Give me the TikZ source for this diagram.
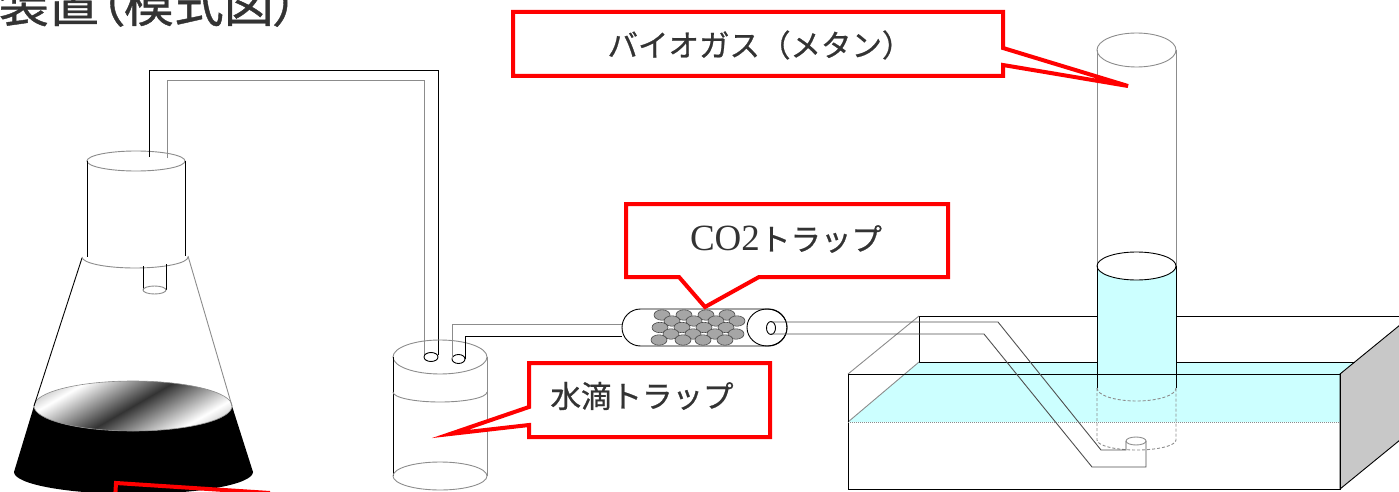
\documentclass[tikz,border=0pt]{standalone}
\usepackage{fontspec}
\newfontfamily\jpfont[FakeBold=0.8]{Noto Sans CJK JP}
\newfontfamily\jptitle[RawFeature=+palt, FakeBold=0.8]{Noto Sans CJK JP}
\newfontfamily\latinserif{Liberation Serif}
\definecolor{ink}{HTML}{333333}
\definecolor{water}{HTML}{CCFFFF}
\definecolor{callred}{HTML}{FF0000}
\definecolor{sidegray}{HTML}{C8C8C8}
\definecolor{edgegray}{HTML}{8C8C8C}
\definecolor{tubegray}{HTML}{505050}
\pgfdeclarehorizontalshading{sheen}{100bp}{color(0bp)=(black!50); color(31bp)=(black!50); color(39bp)=(white); color(50bp)=(black!80); color(61bp)=(white); color(69bp)=(black!45); color(100bp)=(black!45)}
\tikzset{
  glass/.style={line width=0.9pt, draw=black},
  glassgray/.style={line width=0.9pt, draw=edgegray},
  tube/.style={line width=0.9pt, draw=tubegray},
  callout/.style={draw=callred, line width=4pt, fill=white, line join=miter},
  calltext/.style={font=\jpfont\fontsize{30.5}{36}\selectfont, text=ink, inner sep=0pt},
  pellet/.style={fill=black!35, draw=black!70, line width=0.6pt},
}
\newcommand\pelletat[2]{\filldraw[pellet] (#1,#2) ellipse [x radius=8, y radius=5.2];}
\begin{document}
\begin{tikzpicture}[x=1pt,y=-1pt]
\useasboundingbox (0,0) rectangle (1399,492);
\clip (0,0) rectangle (1399,492);

% heading, cut by the top-left corner
\node[anchor=base east, font=\jptitle\fontsize{50}{50}\selectfont, text=ink, inner sep=0pt] (title) at (299,22) {装置（模式図）};

% ---------- fermentation flask ----------
% liquid body
\fill[black] (34,406) -- (14,472) arc[start angle=180, end angle=0, x radius=119.5, y radius=22]
  -- (232,406) arc[start angle=0, end angle=180, x radius=99, y radius=25] -- cycle;
% glossy liquid surface
\begin{scope}
  \clip (133,406) ellipse [x radius=99, y radius=25];
  \shade[shading=sheen, shading angle=-60] (33,306) rectangle (233,506);
\end{scope}
\draw[glassgray, line width=0.6pt] (133,406) ellipse [x radius=99, y radius=25];
% conical walls
\draw[glass] (82,258) -- (34,406);
\draw[glassgray] (188,256) -- (232,406);
% neck rim
\draw[glassgray] (82,257) arc[start angle=180, end angle=0, x radius=53, y radius=11];
% stopper
\draw[glassgray] (136,161) ellipse [x radius=49, y radius=10];
\draw[glass] (87,161) -- (87,257);
\draw[glass] (185,161) -- (185,256);
% short tube below the stopper
\draw[glass] (143,266) -- (143,290);
\draw[glass] (166,264) -- (166,290);
\draw[glassgray] (154.5,290) ellipse [x radius=11.5, y radius=4];

% gas line from flask to water trap
\draw[glass] (149,157) -- (149,70) -- (438,70) -- (438,355);
\draw[glassgray] (167,158) -- (167,80) -- (424,80) -- (424,355);

% ---------- water trap ----------
\draw[glassgray] (440,357) ellipse [x radius=47, y radius=17];
\draw[glass] (393,357) -- (393,476);
\draw[glassgray] (487,357) -- (487,476);
\draw[glassgray] (393,392) arc[start angle=180, end angle=0, x radius=47, y radius=10];
\draw[glassgray] (440,476) ellipse [x radius=47, y radius=14];
\draw[glass] (431,357) ellipse [x radius=7, y radius=4.5];
\draw[glass] (458.5,359) ellipse [x radius=6.5, y radius=4.5];
% line to the CO2 trap
\draw[glassgray] (452,359) -- (452,324) -- (622,324);
\draw[glass] (465,359) -- (465,336) -- (622,336);

% ---------- CO2 trap ----------
\draw[glass, rounded corners=18.5pt] (622,309) rectangle (787,346);
\draw[glass] (767,327.5) ellipse [x radius=20, y radius=18.5];
\foreach \px in {662,684,706,727} {\pelletat{\px}{315}}
\foreach \px in {672,694,716,737} {\pelletat{\px}{321}}
\foreach \px in {660,682,704,726} {\pelletat{\px}{327.5}}
\foreach \px in {671,693,715,736} {\pelletat{\px}{334}}
\foreach \px in {659,683,703,725} {\pelletat{\px}{340}}
\draw[glass] (771,328) ellipse [x radius=4.5, y radius=6.5];

% ---------- water tank ----------
% water surface
\fill[water] (848,422) -- (919,362) -- (1411,362) -- (1340,422) -- cycle;
% right side panel
\filldraw[fill=sidegray, draw=black, line width=0.9pt] (1340,374) -- (1411,316) -- (1411,431) -- (1340,489) -- cycle;
% rear edges
\draw[glass] (919,316) -- (1411,316);
\draw[glass] (919,316) -- (919,362) -- (1355,362);
\draw[glassgray] (848,374) -- (919,316);
\draw[glassgray] (848,422) -- (919,362);

% ---------- gas collecting cylinder ----------
\fill[water] (1097,266) arc[start angle=180, end angle=0, x radius=39.5, y radius=14]
  -- (1176,388) arc[start angle=0, end angle=180, x radius=39.5, y radius=13] -- cycle;
\draw[glassgray] (1136.5,50) ellipse [x radius=39.5, y radius=17];
\draw[glassgray] (1097,50) -- (1097,266);
\draw[glassgray] (1176,50) -- (1176,266);
\draw[glass] (1136.5,266) ellipse [x radius=39.5, y radius=14];
\draw[glass] (1097,266) -- (1097,388);
\draw[glass] (1176,266) -- (1176,388);
\draw[glassgray, dash pattern=on 3pt off 2pt] (1097,388) arc[start angle=180, end angle=0, x radius=39.5, y radius=13];
\draw[glassgray, dash pattern=on 3pt off 2pt] (1097,388) -- (1097,440) arc[start angle=180, end angle=0, x radius=39.5, y radius=10] -- (1176,388);

% front panel
\draw[glass] (848,374) rectangle (1340,489);
\draw[edgegray, densely dotted, line width=1pt] (848,422) -- (1340,422);

% gas line into the tank
\draw[tube] (771,322) -- (998,322) -- (1101,450) -- (1126,450) -- (1126,441);
\draw[tube] (771,334) -- (984,334) -- (1092,467) -- (1146,467) -- (1146,441);
\draw[glassgray] (1136,441) ellipse [x radius=10, y radius=4];

% ---------- callouts ----------
\draw[callout] (513,12) -- (1003,12) -- (1003,48) -- (1128,86) -- (1003,65) -- (1003,76) -- (513,76) -- cycle;
\node[calltext] (biogas) at (760,45) {バイオガス（メタン）};

\draw[callout] (626,204) -- (948,204) -- (948,277) -- (759,277) -- (705,307) -- (679,277) -- (626,277) -- cycle;
\node[calltext] (co2trap) at (786,239) {{\latinserif\fontsize{37}{40}\selectfont CO2}トラップ};

\draw[callout] (529,363) -- (770,363) -- (770,437) -- (529,437) -- (529,425) -- (450,434) -- (529,407) -- cycle;
\node[calltext] (droptrap) at (642,396) {水滴トラップ};

\draw[callout, fill=none] (115,500) -- (116,483) -- (270,493);
\end{tikzpicture}
\end{document}
